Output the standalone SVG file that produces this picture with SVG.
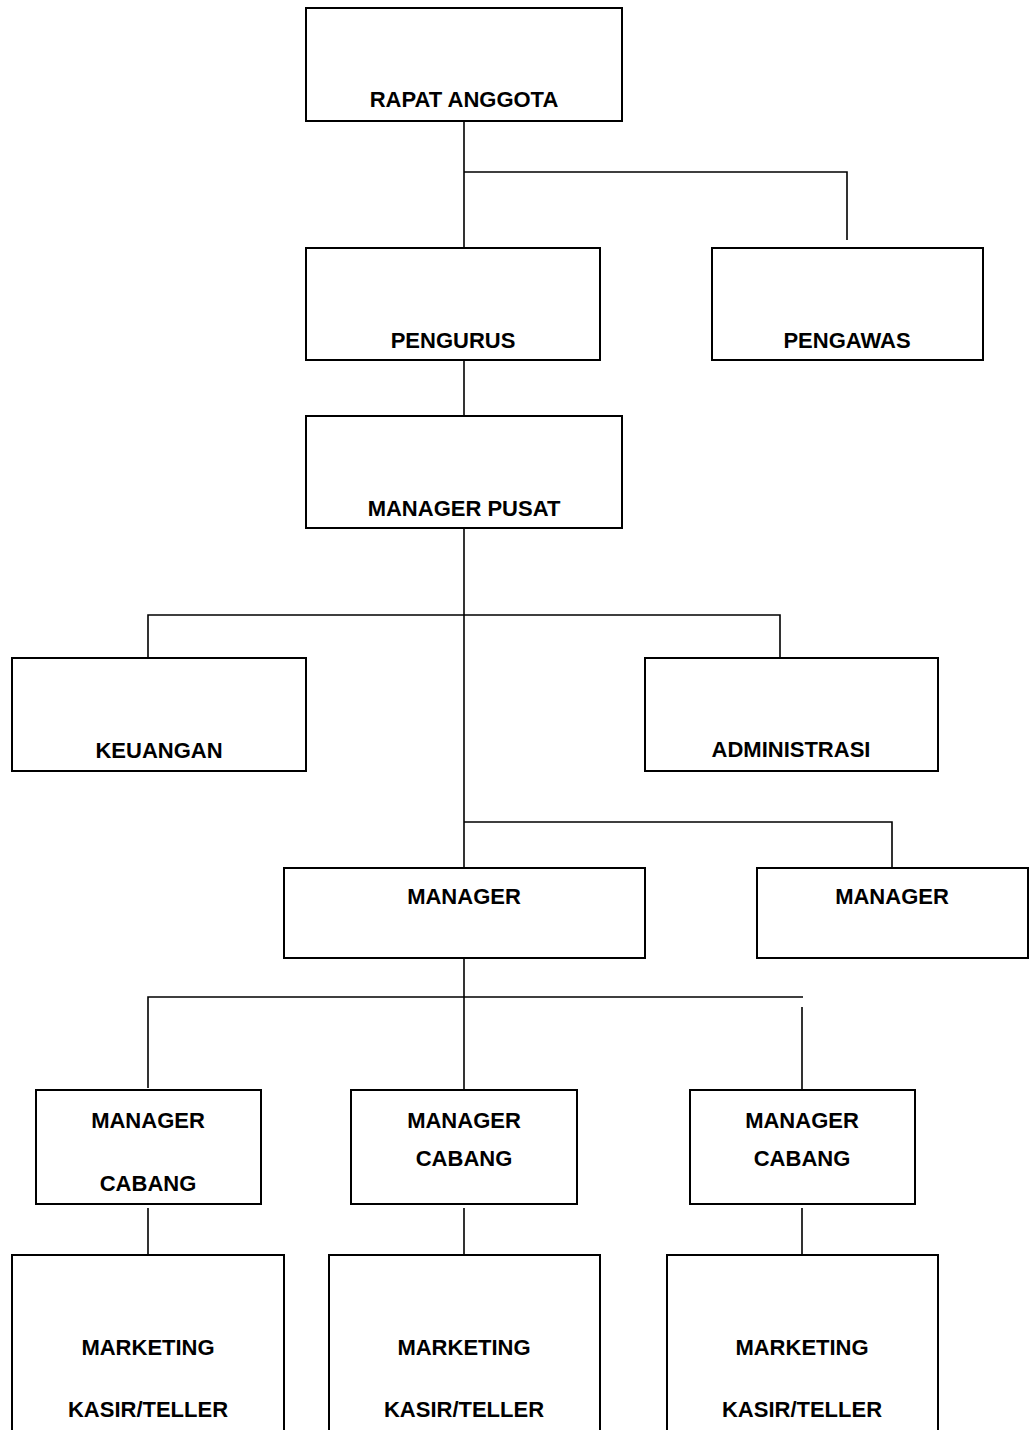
<svg xmlns="http://www.w3.org/2000/svg" width="1032" height="1430" viewBox="0 0 1032 1430">
<style>
.box{fill:#fff;stroke:#000;stroke-width:2}
.t{font-family:"Liberation Sans",Arial,sans-serif;font-weight:bold;font-size:22px;fill:#000;text-anchor:middle}
.c{fill:none;stroke:#000;stroke-width:1.6}
</style>
<rect width="1032" height="1430" fill="#fff"/>
<g id="connectors">
<path class="c" d="M464 121V248M464 172H847V240"/>
<path class="c" d="M464 360V416"/>
<path class="c" d="M464 528V868"/>
<path class="c" d="M148 658V615H780V658"/>
<path class="c" d="M464 822H892V868"/>
<path class="c" d="M464 958V1090"/>
<path class="c" d="M148 1088V997H803M802 1007V1098"/>
<path class="c" d="M148 1208V1255M464 1208V1255M802 1208V1255"/>
</g>
<g id="rapat-anggota"><rect class="box" x="306" y="8" width="316" height="113"/><text class="t" x="464" y="107">RAPAT ANGGOTA</text></g>
<g id="pengurus"><rect class="box" x="306" y="248" width="294" height="112"/><text class="t" x="453" y="348">PENGURUS</text></g>
<g id="pengawas"><rect class="box" x="712" y="248" width="271" height="112"/><text class="t" x="847" y="348">PENGAWAS</text></g>
<g id="manager-pusat"><rect class="box" x="306" y="416" width="316" height="112"/><text class="t" x="464" y="516">MANAGER PUSAT</text></g>
<g id="keuangan"><rect class="box" x="12" y="658" width="294" height="113"/><text class="t" x="159" y="758">KEUANGAN</text></g>
<g id="administrasi"><rect class="box" x="645" y="658" width="293" height="113"/><text class="t" x="791" y="757">ADMINISTRASI</text></g>
<g id="manager-1"><rect class="box" x="284" y="868" width="361" height="90"/><text class="t" x="464" y="904">MANAGER</text></g>
<g id="manager-2"><rect class="box" x="757" y="868" width="271" height="90"/><text class="t" x="892" y="904">MANAGER</text></g>
<g id="manager-cabang-1"><rect class="box" x="36" y="1090" width="225" height="114"/><text class="t" x="148" y="1128">MANAGER</text><text class="t" x="148" y="1191">CABANG</text></g>
<g id="manager-cabang-2"><rect class="box" x="351" y="1090" width="226" height="114"/><text class="t" x="464" y="1128">MANAGER</text><text class="t" x="464" y="1166">CABANG</text></g>
<g id="manager-cabang-3"><rect class="box" x="690" y="1090" width="225" height="114"/><text class="t" x="802" y="1128">MANAGER</text><text class="t" x="802" y="1166">CABANG</text></g>
<g id="staff-1"><rect class="box" x="12" y="1255" width="272" height="190"/><text class="t" x="148" y="1355">MARKETING</text><text class="t" x="148" y="1417">KASIR/TELLER</text></g>
<g id="staff-2"><rect class="box" x="329" y="1255" width="271" height="190"/><text class="t" x="464" y="1355">MARKETING</text><text class="t" x="464" y="1417">KASIR/TELLER</text></g>
<g id="staff-3"><rect class="box" x="667" y="1255" width="271" height="190"/><text class="t" x="802" y="1355">MARKETING</text><text class="t" x="802" y="1417">KASIR/TELLER</text></g>
</svg>
